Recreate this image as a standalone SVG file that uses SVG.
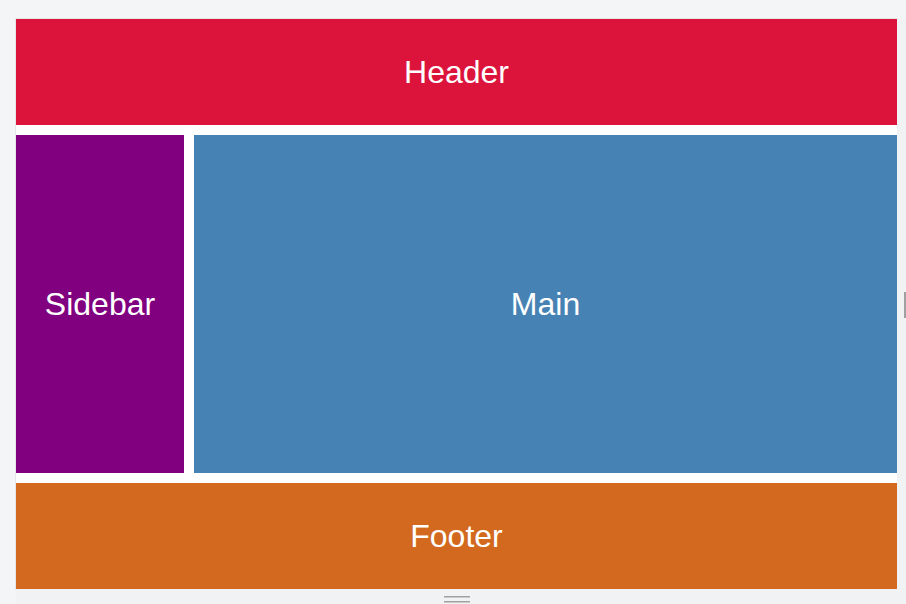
<svg xmlns="http://www.w3.org/2000/svg" width="906" height="604" viewBox="0 0 906 604">
<style>
.lbl{font-family:"Liberation Sans",Arial,sans-serif;font-size:32px;fill:#ffffff;text-anchor:middle;dominant-baseline:central}
</style>
<rect x="0" y="0" width="906" height="604" fill="#f4f5f6"/>
<rect x="15" y="18" width="883" height="572" fill="#e4e6e8"/>
<rect x="16" y="19" width="881" height="570" fill="#ffffff"/>
<rect x="897" y="19" width="9" height="585" fill="#f1f2f4"/>
<rect x="16" y="589" width="890" height="15" fill="#f1f2f4"/>
<g id="header"><rect x="16" y="19" width="881" height="106" fill="#dc143c"/><text class="lbl" x="456.5" y="72">Header</text></g>
<g id="sidebar"><rect x="16" y="135" width="168" height="338" fill="#800080"/><text class="lbl" x="100" y="304">Sidebar</text></g>
<g id="main"><rect x="194" y="135" width="703" height="338" fill="#4682b4"/><text class="lbl" x="545.5" y="304">Main</text></g>
<g id="footer"><rect x="16" y="483" width="881" height="106" fill="#d2691e"/><text class="lbl" x="456.5" y="536">Footer</text></g>
<g id="connectors"></g>
<g id="handles" fill="#a0a0a0">
<rect x="444" y="596" width="26" height="1.5"/>
<rect x="444" y="601" width="26" height="1.5"/>
<rect x="904" y="292" width="2" height="26"/>
</g>
</svg>
